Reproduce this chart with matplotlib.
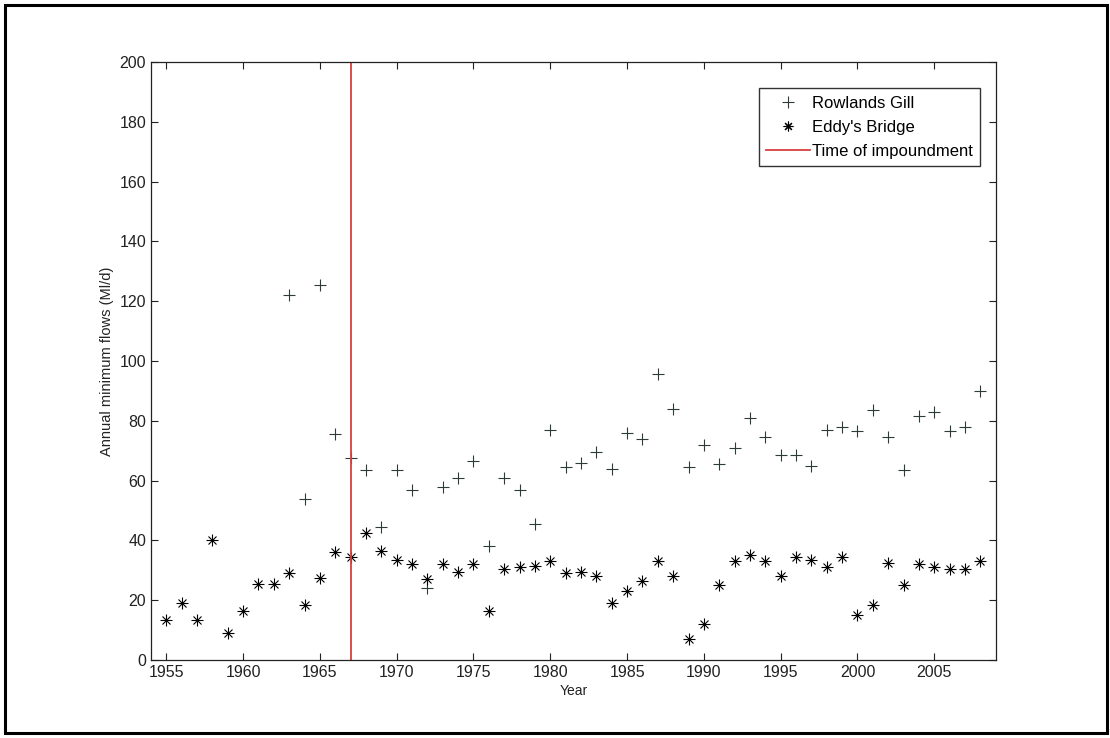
import matplotlib
matplotlib.use("Agg")
import matplotlib.pyplot as plt
from matplotlib.patches import Rectangle

plt.rcParams['font.family'] = ['Liberation Sans', 'DejaVu Sans']

# Rowlands Gill annual minimum flows (Ml/d)
rg_years = list(range(1963, 2009))
rg_flows = [122, 54, 125.5, 75.5, 67.5, 63.5, 44.5, 63.5, 57, 24,
            58, 61, 66.5, 38, 61, 57, 45.5, 77, 64.5, 66,
            69.5, 64, 76, 74, 95.5, 84, 64.5, 72, 65.5, 71,
            81, 74.5, 68.5, 68.5, 65, 77, 78, 76.5, 83.5, 74.5,
            63.5, 81.5, 83, 76.5, 78, 90]

# Eddy's Bridge annual minimum flows (Ml/d)
eb_years = list(range(1955, 2009))
eb_flows = [13.5, 19, 13.5, 40, 9, 16.5, 25.5, 25.5, 29, 18.5,
            27.5, 36, 34.5, 42.5, 36.5, 33.5, 32, 27, 32, 29.5,
            32, 16.5, 30.5, 31, 31.5, 33, 29, 29.5, 28, 19,
            23, 26.5, 33, 28, 7, 12, 25, 33, 35, 33,
            28, 34.5, 33.5, 31, 34.5, 15, 18.5, 32.5, 25, 32,
            31, 30.5, 30.5, 33]

impoundment_year = 1967

fig = plt.figure(figsize=(11.1, 7.38), dpi=100)
ax = fig.add_axes([0.136, 0.1057, 0.761, 0.8103])

ax.plot(rg_years, rg_flows, ls="none", marker="+", ms=9, mew=0.8,
        color="#2b3d35", label="Rowlands Gill")
# MATLAB-style asterisk: + and x overlaid
ax.plot(eb_years, eb_flows, ls="none", marker="+", ms=9, mew=0.8,
        color="black", label="_nolegend_")
ax.plot(eb_years, eb_flows, ls="none", marker="x", ms=6, mew=0.8,
        color="black", label="_nolegend_")
ax.plot([], [], ls="none", marker=(8, 2, 0), ms=7, mew=0.8,
        color="black", label="Eddy's Bridge")
ax.axvline(impoundment_year, color="#d84040", lw=1.3, label="Time of impoundment")

ax.set_xlim(1954, 2009)
ax.set_ylim(0, 200)
ax.set_xticks(range(1955, 2006, 5))
ax.set_yticks(range(0, 201, 20))
ax.tick_params(direction="in", top=True, right=True, length=5, width=0.8,
               labelsize=11.5, colors="#222222")
for s in ax.spines.values():
    s.set_linewidth(0.9)
    s.set_color("#222222")

ax.set_xlabel("Year", fontsize=10, color="#222222", labelpad=3)
ax.set_ylabel("Annual minimum flows (Ml/d)", fontsize=10.5, color="#222222", labelpad=4)

leg = ax.legend(loc="upper right", bbox_to_anchor=(0.982, 0.9565), fontsize=12,
                fancybox=False, edgecolor="#333333", framealpha=1,
                handlelength=2.6, handletextpad=0.15, borderpad=0.45,
                labelspacing=0.55, borderaxespad=0)
leg.get_frame().set_linewidth(1.0)

# black frame around the whole picture
fig.patches.append(Rectangle((5 / 1110, 5 / 738), 1102 / 1110, 728 / 738,
                             transform=fig.transFigure, fill=False,
                             edgecolor="black", lw=2.2))

fig.savefig("out.png", dpi=100)
